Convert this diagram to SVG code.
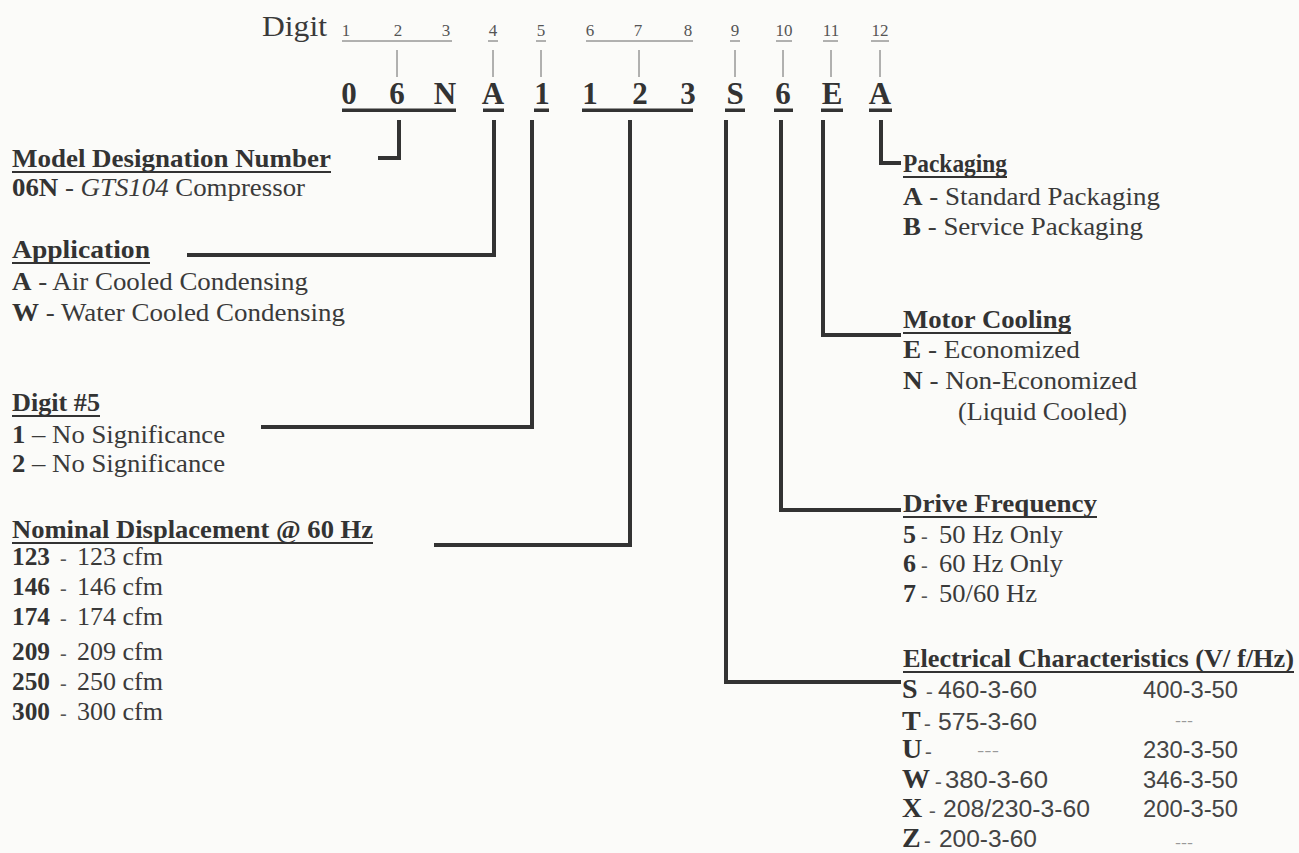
<svg xmlns="http://www.w3.org/2000/svg" width="1299" height="853" viewBox="0 0 1299 853">
<style>
.s{font-family:"Liberation Serif","DejaVu Serif",serif;fill:#3a3a3a}
.b{font-weight:bold;fill:#333}
.h{font-family:"Liberation Serif",serif;font-weight:bold;font-size:26px;fill:#333}
.t{font-size:26px}
.L{font-size:28px}
.dash{font-family:"Liberation Serif",serif;font-size:20px;fill:#555}
.n{font-family:"Liberation Sans",Arial,sans-serif;fill:#444;font-size:23px}
.d{font-family:"Liberation Sans",Arial,sans-serif;fill:#999;font-size:14px}
.sm{font-family:"Liberation Serif",serif;font-size:17px;fill:#555}
.big{font-family:"Liberation Serif",serif;font-weight:bold;font-size:31px;fill:#333}
.ul{stroke:#333;stroke-width:2}
.thin{stroke:#666;stroke-width:1}
.con{fill:none;stroke:#333;stroke-width:4;stroke-linejoin:miter;stroke-linecap:square}
</style>
<rect width="1299" height="853" fill="#fbfbf9"/>
<g id="header">
<text class="s" x="262" y="36" font-size="29" textLength="65" lengthAdjust="spacingAndGlyphs">Digit</text>
<g text-anchor="middle" class="sm">
<text x="346" y="36">1</text><text x="398" y="36">2</text><text x="446" y="36">3</text><text x="493" y="36">4</text><text x="541" y="36">5</text><text x="590" y="36">6</text><text x="638" y="36">7</text><text x="688" y="36">8</text><text x="735" y="36">9</text><text x="784" y="36">10</text><text x="831" y="36">11</text><text x="880" y="36">12</text>
</g>
<g class="thin">
<line x1="342" y1="41" x2="452" y2="41"/><line x1="488" y1="41" x2="498" y2="41"/><line x1="536" y1="41" x2="546" y2="41"/><line x1="586" y1="41" x2="693" y2="41"/><line x1="730" y1="41" x2="740" y2="41"/><line x1="776" y1="41" x2="792" y2="41"/><line x1="823" y1="41" x2="838" y2="41"/><line x1="871" y1="41" x2="889" y2="41"/>
<line x1="397" y1="50" x2="397" y2="77"/><line x1="493" y1="50" x2="493" y2="77"/><line x1="541" y1="50" x2="541" y2="77"/><line x1="639" y1="50" x2="639" y2="77"/><line x1="735" y1="50" x2="735" y2="77"/><line x1="783" y1="50" x2="783" y2="77"/><line x1="831" y1="50" x2="831" y2="77"/><line x1="880" y1="50" x2="880" y2="77"/>
</g>
<g text-anchor="middle" class="big">
<text x="349" y="104">0</text><text x="397" y="104">6</text><text x="445" y="104">N</text><text x="493" y="104">A</text><text x="542" y="104">1</text><text x="590" y="104">1</text><text x="640" y="104">2</text><text x="688" y="104">3</text><text x="735" y="104">S</text><text x="783" y="104">6</text><text x="832" y="104">E</text><text x="880" y="104">A</text>
</g>
<g fill="#333">
<rect x="342" y="108.5" width="114" height="3.5"/>
<rect x="483" y="108.5" width="21" height="3.5"/>
<rect x="534" y="108.5" width="15" height="3.5"/>
<rect x="582" y="108.5" width="111" height="3.5"/>
<rect x="725" y="108.5" width="20" height="3.5"/>
<rect x="774" y="108.5" width="19" height="3.5"/>
<rect x="821" y="108.5" width="22" height="3.5"/>
<rect x="869" y="108.5" width="23" height="3.5"/>
</g>
</g>
<g id="connectors" class="con">
<path d="M399 122 V158 H380"/>
<path d="M494 122 V255 H189"/>
<path d="M532 122 V427 H263"/>
<path d="M630 122 V545 H436"/>
<path d="M726 122 V682 H899"/>
<path d="M781 122 V510 H899"/>
<path d="M823 122 V335 H899"/>
<path d="M881 122 V163 H899"/>
</g>
<g id="model">
<text class="h" x="12" y="167" textLength="319" lengthAdjust="spacingAndGlyphs">Model Designation Number</text>
<line class="ul" x1="12" y1="172" x2="331" y2="172"/>
<text class="s t" x="12" y="196" textLength="293" lengthAdjust="spacingAndGlyphs"><tspan class="b">06N</tspan> - <tspan font-style="italic">GTS104</tspan> Compressor</text>
</g>
<g id="application">
<text class="h" x="12" y="258" textLength="138" lengthAdjust="spacingAndGlyphs">Application</text>
<line class="ul" x1="12" y1="263" x2="150" y2="263"/>
<text class="s t" x="12" y="290" textLength="296" lengthAdjust="spacingAndGlyphs"><tspan class="b">A</tspan> - Air Cooled Condensing</text>
<text class="s t" x="12" y="321" textLength="333" lengthAdjust="spacingAndGlyphs"><tspan class="b">W</tspan> - Water Cooled Condensing</text>
</g>
<g id="digit5">
<text class="h" x="12" y="411" textLength="88" lengthAdjust="spacingAndGlyphs">Digit #5</text>
<line class="ul" x1="12" y1="416" x2="100" y2="416"/>
<text class="s t" x="12" y="443" textLength="213" lengthAdjust="spacingAndGlyphs"><tspan class="b">1</tspan> – No Significance</text>
<text class="s t" x="12" y="472" textLength="213" lengthAdjust="spacingAndGlyphs"><tspan class="b">2</tspan> – No Significance</text>
</g>
<g id="displacement">
<text class="h" x="12" y="538" textLength="361" lengthAdjust="spacingAndGlyphs">Nominal Displacement @ 60 Hz</text>
<line class="ul" x1="12" y1="543" x2="373" y2="543"/>
<g class="s t">
<text class="b" x="12" y="565" textLength="38" lengthAdjust="spacingAndGlyphs">123</text><text class="dash" x="60" y="565">-</text><text x="77" y="565" textLength="86" lengthAdjust="spacingAndGlyphs">123 cfm</text>
<text class="b" x="12" y="595" textLength="38" lengthAdjust="spacingAndGlyphs">146</text><text class="dash" x="60" y="595">-</text><text x="77" y="595" textLength="86" lengthAdjust="spacingAndGlyphs">146 cfm</text>
<text class="b" x="12" y="625" textLength="38" lengthAdjust="spacingAndGlyphs">174</text><text class="dash" x="60" y="625">-</text><text x="77" y="625" textLength="86" lengthAdjust="spacingAndGlyphs">174 cfm</text>
<text class="b" x="12" y="660" textLength="38" lengthAdjust="spacingAndGlyphs">209</text><text class="dash" x="60" y="660">-</text><text x="77" y="660" textLength="86" lengthAdjust="spacingAndGlyphs">209 cfm</text>
<text class="b" x="12" y="690" textLength="38" lengthAdjust="spacingAndGlyphs">250</text><text class="dash" x="60" y="690">-</text><text x="77" y="690" textLength="86" lengthAdjust="spacingAndGlyphs">250 cfm</text>
<text class="b" x="12" y="720" textLength="38" lengthAdjust="spacingAndGlyphs">300</text><text class="dash" x="60" y="720">-</text><text x="77" y="720" textLength="86" lengthAdjust="spacingAndGlyphs">300 cfm</text>
</g>
</g>
<g id="packaging">
<text class="h" x="903" y="172" textLength="104" lengthAdjust="spacingAndGlyphs">Packaging</text>
<line class="ul" x1="903" y1="177" x2="1007" y2="177"/>
<text class="s t" x="903" y="205" textLength="257" lengthAdjust="spacingAndGlyphs"><tspan class="b">A</tspan> - Standard Packaging</text>
<text class="s t" x="903" y="235" textLength="240" lengthAdjust="spacingAndGlyphs"><tspan class="b">B</tspan> - Service Packaging</text>
</g>
<g id="motor">
<text class="h" x="903" y="328" textLength="168" lengthAdjust="spacingAndGlyphs">Motor Cooling</text>
<line class="ul" x1="903" y1="333" x2="1071" y2="333"/>
<text class="s t" x="903" y="358" textLength="177" lengthAdjust="spacingAndGlyphs"><tspan class="b">E</tspan> - Economized</text>
<text class="s t" x="903" y="389" textLength="234" lengthAdjust="spacingAndGlyphs"><tspan class="b">N</tspan> - Non-Economized</text>
<text class="s t" x="958" y="420" textLength="169" lengthAdjust="spacingAndGlyphs">(Liquid Cooled)</text>
</g>
<g id="drive">
<text class="h" x="903" y="512" textLength="194" lengthAdjust="spacingAndGlyphs">Drive Frequency</text>
<line class="ul" x1="903" y1="517" x2="1097" y2="517"/>
<g class="s t">
<text class="b" x="903" y="543">5</text><text class="dash" x="921" y="543">-</text><text x="939" y="543" textLength="124" lengthAdjust="spacingAndGlyphs">50 Hz Only</text>
<text class="b" x="903" y="572">6</text><text class="dash" x="921" y="572">-</text><text x="939" y="572" textLength="124" lengthAdjust="spacingAndGlyphs">60 Hz Only</text>
<text class="b" x="903" y="602">7</text><text class="dash" x="921" y="602">-</text><text x="939" y="602" textLength="98" lengthAdjust="spacingAndGlyphs">50/60 Hz</text>
</g>
</g>
<g id="electrical">
<text class="h" x="903" y="667" textLength="391" lengthAdjust="spacingAndGlyphs">Electrical Characteristics (V/ f/Hz)</text>
<line class="ul" x1="903" y1="672" x2="1294" y2="672"/>
<g class="s L b">
<text x="902" y="698">S</text>
<text x="902" y="730">T</text>
<text x="902" y="758">U</text>
<text x="902" y="788">W</text>
<text x="902" y="817">X</text>
<text x="902" y="847">Z</text>
</g>
<text class="dash" x="926" y="698">-</text>
<text class="dash" x="924" y="730">-</text>
<text class="dash" x="925" y="758">-</text>
<text class="dash" x="935" y="788">-</text>
<text class="dash" x="929" y="817">-</text>
<text class="dash" x="924" y="847">-</text>
<text class="n" x="938" y="698" textLength="99" lengthAdjust="spacingAndGlyphs">460-3-60</text>
<text class="n" x="938" y="730" textLength="99" lengthAdjust="spacingAndGlyphs">575-3-60</text>
<text class="d" x="977" y="756" textLength="22" lengthAdjust="spacingAndGlyphs">---</text>
<text class="n" x="945" y="788" textLength="103" lengthAdjust="spacingAndGlyphs">380-3-60</text>
<text class="n" x="943" y="817" textLength="147" lengthAdjust="spacingAndGlyphs">208/230-3-60</text>
<text class="n" x="939" y="847" textLength="98" lengthAdjust="spacingAndGlyphs">200-3-60</text>
<text class="n" x="1143" y="698" textLength="95" lengthAdjust="spacingAndGlyphs">400-3-50</text>
<text class="d" x="1175" y="726" textLength="18" lengthAdjust="spacingAndGlyphs">---</text>
<text class="n" x="1143" y="758" textLength="95" lengthAdjust="spacingAndGlyphs">230-3-50</text>
<text class="n" x="1143" y="788" textLength="95" lengthAdjust="spacingAndGlyphs">346-3-50</text>
<text class="n" x="1143" y="817" textLength="95" lengthAdjust="spacingAndGlyphs">200-3-50</text>
<text class="d" x="1175" y="848" textLength="18" lengthAdjust="spacingAndGlyphs">---</text>
</g>
</svg>
